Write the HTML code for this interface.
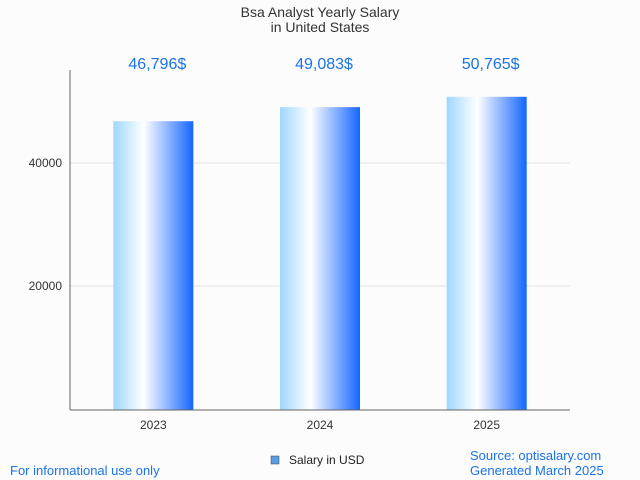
<!DOCTYPE html>
<html><head><meta charset="utf-8"><style>
body{margin:0;background:#fcfcfc;font-family:"Liberation Sans",sans-serif;}
svg{display:block}
</style></head><body>
<svg width="640" height="480">
<defs><linearGradient id="g" x1="0" x2="1" y1="0" y2="0">
<stop offset="0" stop-color="#9ed8ff"/><stop offset="0.38" stop-color="#ffffff"/><stop offset="1" stop-color="#1466ff"/>
</linearGradient></defs>
<rect width="640" height="480" fill="#fcfcfc"/>
<text x="320" y="17" text-anchor="middle" font-size="14" fill="#333">Bsa Analyst Yearly Salary</text>
<text x="320" y="32" text-anchor="middle" font-size="14" fill="#333">in United States</text>
<g id="grid"></g><g id="bars"></g>
<line x1="70" y1="70" x2="70" y2="410" stroke="#666"/>
<line x1="70" y1="410" x2="570" y2="410" stroke="#666"/>
<rect x="271" y="456" width="8" height="8" fill="#5b9be0" stroke="#345" stroke-width="0.5"/>
<text x="289" y="464" font-size="12" fill="#222">Salary in USD</text>
<text x="10" y="475" font-size="13" fill="#1a73e8">For informational use only</text>
<text x="470" y="460" font-size="13" fill="#1a73e8">Source: optisalary.com</text>
<text x="470" y="475" font-size="13" fill="#1a73e8">Generated March 2025</text>
</svg>
<script>
const categories=["2023","2024","2025"];
const values=[46796,49083,50765];
const valueLabels=["46,796$","49,083$","50,765$"];
const yTicks=[20000,40000];
const ns="http://www.w3.org/2000/svg";
const y0=409,pxPer=123/20000,left=70,plotW=500,bw=80;
const y=v=>y0-v*pxPer;
const x=i=>left+plotW/categories.length*(i+0.5);
function mk(t,a,txt){const e=document.createElementNS(ns,t);for(const k in a)e.setAttribute(k,a[k]);if(txt)e.textContent=txt;return e;}
const grid=document.getElementById('grid'),bars=document.getElementById('bars');
yTicks.forEach(t=>{
 const l=mk('line',{x1:70,x2:570,y1:y(t),y2:y(t),stroke:'#e2e2e2'});
 
 
 grid.appendChild(l);
 const tx=mk('text',{x:62,y:y(t)+4,'text-anchor':'end','font-size':12,fill:'#333'},String(t));
 
 
 grid.appendChild(tx);
});
categories.forEach((c,i)=>{
 const r=mk('rect',{x:x(i)-bw/2,y:y(values[i]),width:bw,height:y0-y(values[i])+1,fill:'url(#g)'});
 
 
 bars.appendChild(r);
 const v=mk('text',{x:x(i)+4,y:69,'text-anchor':'middle','font-size':16,fill:'#1a73e8'},valueLabels[i]);
 
 
 bars.appendChild(v);
 const t=mk('text',{x:x(i),y:429,'text-anchor':'middle','font-size':12,fill:'#333'},c);
 
 
 bars.appendChild(t);
});
</script>
</body></html>
